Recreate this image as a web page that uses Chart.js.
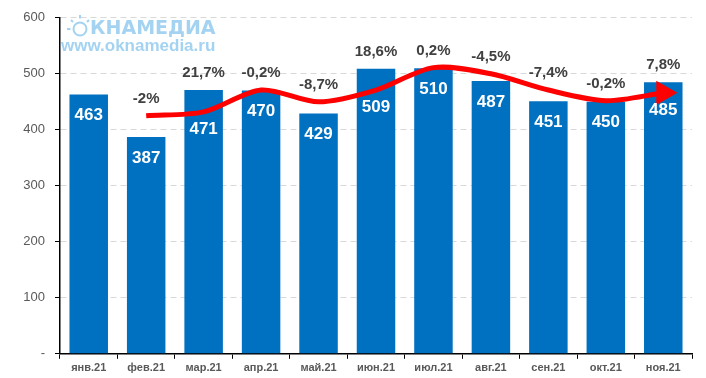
<!DOCTYPE html>
<html>
<head>
<meta charset="utf-8">
<script src="https://cdn.jsdelivr.net/npm/chart.js@4/dist/chart.umd.min.js"></script>
<style>
    html, body { margin: 0; padding: 0; background: #fff; }
    #wrap { width: 706px; height: 378px; }
</style>
</head>
<body>
<div id="wrap"><canvas id="chart" width="706" height="378"></canvas></div>
<script>
const months = ["янв.21", "фев.21", "мар.21", "апр.21", "май.21", "июн.21", "июл.21", "авг.21", "сен.21", "окт.21", "ноя.21"];
const volumes = [463, 387, 471, 470, 429, 509, 510, 487, 451, 450, 485];
const trend = [null, 425, 432, 471, 450, 471, 511, 500, 471, 452, 466];
const changes = ["", "-2%", "21,7%", "-0,2%", "-8,7%", "18,6%", "0,2%", "-4,5%", "-7,4%", "-0,2%", "7,8%"];
const yTicks = [0, 100, 200, 300, 400, 500, 600];

// labels on bars + percent labels above bar/line + watermark
const labelsPlugin = {
    id: "labels",
    afterDatasetsDraw(chart) {
        const ctx = chart.ctx;
        const y = chart.scales.y;
        const bars = chart.getDatasetMeta(1).data;
        ctx.save();
        ctx.textAlign = "center";
        ctx.textBaseline = "middle";
        bars.forEach((bar, i) => {
            // keep value below the red line
            let ly = bar.y + 21;
            if (trend[i] != null) ly = Math.max(ly, y.getPixelForValue(trend[i]) + 17);
            ctx.fillStyle = "#ffffff";
            ctx.font = "bold 17px 'Liberation Sans', Arial, sans-serif";
            ctx.fillText(String(volumes[i]), bar.x, ly);

            if (changes[i]) {
                const top = Math.max(volumes[i], trend[i] || 0);
                ctx.fillStyle = "#404040";
                ctx.font = "bold 15px 'Liberation Sans', Arial, sans-serif";
                ctx.fillText(changes[i], bar.x, y.getPixelForValue(top) - 17);
            }
        });
        ctx.restore();
    },
    beforeDatasetsDraw(chart) {
        const ctx = chart.ctx;
        ctx.save();
        ctx.fillStyle = "#a4d3f2";
        ctx.strokeStyle = "#a4d3f2";
        // little sun for the "О"
        ctx.lineWidth = 2;
        ctx.beginPath();
        ctx.arc(80, 29, 6.5, 0, Math.PI * 2);
        ctx.stroke();
        ctx.beginPath();
        ctx.moveTo(80, 15); ctx.lineTo(80, 18.5);
        ctx.moveTo(67, 29); ctx.lineTo(70.5, 29);
        ctx.moveTo(71, 20); ctx.lineTo(73, 22);
        ctx.moveTo(89, 20); ctx.lineTo(87, 22);
        ctx.stroke();
        ctx.font = "bold 19px 'DejaVu Sans', sans-serif";
        ctx.textBaseline = "middle";
        ctx.fillText("КНАМЕДИА", 90, 29);
        ctx.font = "bold 17px 'Liberation Sans', Arial, sans-serif";
        ctx.fillText("www.oknamedia.ru", 61, 46);
        ctx.restore();
    }
};

new Chart(document.getElementById("chart"), {
    type: "bar",
    data: {
        labels: months,
        datasets: [{
            type: "line",
            data: trend,
            borderColor: "#ff0000",
            backgroundColor: "#ff0000",
            borderWidth: 5,
            tension: 0.3,
            pointRadius: trend.map((v, i) => i === trend.length - 1 ? 9 : 0),
            pointStyle: "triangle",
            rotation: 90,
            order: 0
        }, {
            data: volumes,
            backgroundColor: "#0070c0",
            barPercentage: 0.67,
            categoryPercentage: 1,
            order: 1
        }]
    },
    options: {
        responsive: false,
        animation: false,
        layout: { padding: { top: 4, right: 9, left: 0, bottom: 0 } },
        plugins: {
            legend: { display: false },
            tooltip: { enabled: false }
        },
        scales: {
            x: {
                grid: {
                    offset: true,
                    drawOnChartArea: false,
                    tickLength: 5,
                    tickColor: "#000"
                },
                border: { color: "#000", width: 1.5 },
                ticks: {
                    color: "#595959",
                    font: { family: "'Liberation Sans', Arial, sans-serif", size: 11, weight: "bold" },
                    padding: 3
                }
            },
            y: {
                min: 0,
                max: 600,
                afterBuildTicks: axis => { axis.ticks = yTicks.map(v => ({ value: v })); },
                afterFit: axis => { axis.width = 60; },
                grid: {
                    color: "#d9d9d9",
                    tickColor: "#000",
                    tickLength: 5
                },
                border: { color: "#000", width: 1.5, dash: [6, 4] },
                ticks: {
                    color: "#595959",
                    font: { family: "'Liberation Sans', Arial, sans-serif", size: 13 },
                    padding: 10,
                    callback: v => v === 0 ? "-" : v
                }
            }
        }
    },
    plugins: [labelsPlugin]
});
</script>
</body>
</html>
